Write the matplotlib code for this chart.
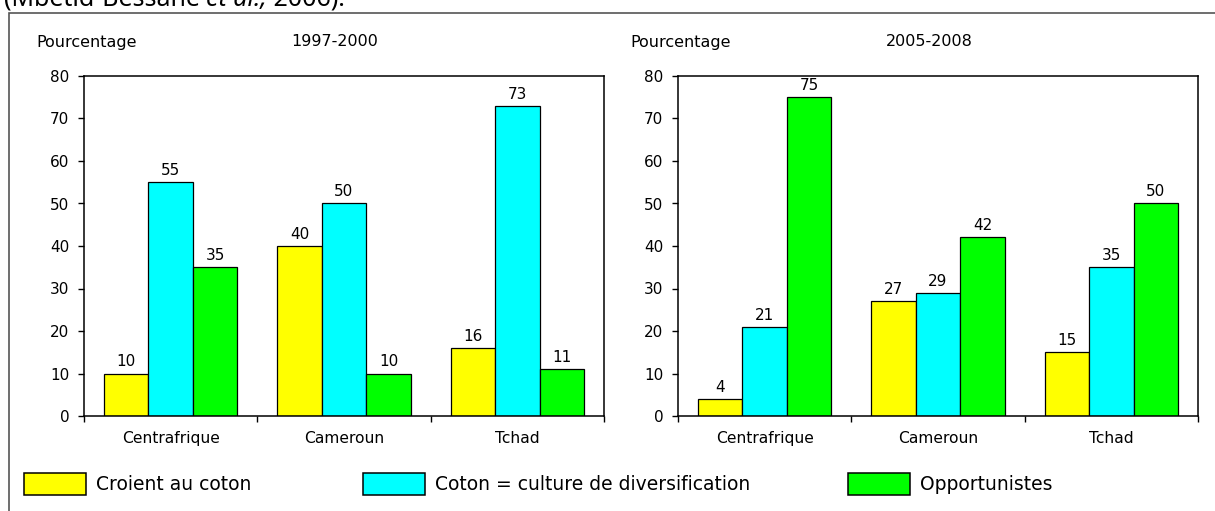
import matplotlib
matplotlib.use('Agg')
import matplotlib.pyplot as plt
from matplotlib.patches import Rectangle, Patch
import numpy as np

# data
pays = ['Centrafrique', 'Cameroun', 'Tchad']
series = ['Croient au coton', 'Coton = culture de diversification', 'Opportunistes']
couleurs = ['#FFFF00', '#00FFFF', '#00FF00']

periode_1 = '1997-2000'
croient_1 = [10, 40, 16]
diversif_1 = [55, 50, 73]
opport_1 = [35, 10, 11]

periode_2 = '2005-2008'
croient_2 = [4, 27, 15]
diversif_2 = [21, 29, 35]
opport_2 = [75, 42, 50]

yticks = [0, 10, 20, 30, 40, 50, 60, 70, 80]

W, H = 1215, 511
fig = plt.figure(figsize=(W / 100, H / 100), dpi=100)
plt.rcParams['font.family'] = ['DejaVu Sans']

# outer frame of the screenshot (right and bottom run off the image)
fig.patches.append(Rectangle((9 / W, -0.1), 1.2, 1 - 13 / H + 0.1,
                             transform=fig.transFigure, fill=False,
                             edgecolor='#555555', linewidth=1.2))

# source line at the very top, cut off by the screenshot like in the reference
renderer = fig.canvas.get_renderer()
x0 = 4
for piece, style in [('(Mbetid-Bessane ', 'normal'), ('et al.,', 'italic'), (' 2006).', 'normal')]:
    t = fig.text(x0 / W, 1 - 6 / H, piece, fontsize=18, family='Noto Sans',
                 style=style, va='baseline', ha='left', color='black')
    x0 += t.get_window_extent(renderer).width


def draw_panel(ax_left, periode, vals):
    ax = fig.add_axes([ax_left / W, (H - 416) / H, 520 / W, 340 / H])
    x = np.arange(len(pays))
    w = 0.257
    for i, (v, c) in enumerate(zip(vals, couleurs)):
        bars = ax.bar(x + (i - 1) * w, v, w, color=c, edgecolor='black',
                      linewidth=0.9, label=series[i])
        ax.bar_label(bars, padding=3, fontsize=11)
    ax.set_xlim(-0.5, 2.5)
    ax.set_ylim(0, 80)
    ax.set_yticks(yticks)
    ax.set_xticks(x)
    ax.set_xticklabels(pays, fontsize=11.2)
    ax.set_xticks([-0.5, 0.5, 1.5, 2.5], minor=True)
    ax.tick_params(axis='x', which='major', length=0, pad=11)
    ax.tick_params(axis='x', which='minor', length=4.5, width=1, direction='out')
    ax.tick_params(axis='y', labelsize=11, length=4.5, width=1, pad=6)
    for s in ax.spines.values():
        s.set_linewidth(1.1)
    fig.text((ax_left - 48) / W, 1 - 42 / H, 'Pourcentage', fontsize=11.5,
             ha='left', va='center')
    fig.text((ax_left + 251) / W, 1 - 42 / H, periode, fontsize=11.5,
             ha='center', va='center')
    return ax


draw_panel(84, periode_1, [croient_1, diversif_1, opport_1])
draw_panel(678, periode_2, [croient_2, diversif_2, opport_2])

# legend row, one entry per block as in the source
leg_x = [24, 363, 848]
for lx, lab, c in zip(leg_x, series, couleurs):
    fig.legend(handles=[Patch(facecolor=c, edgecolor='black', linewidth=1.1, label=lab)],
               loc='center left', bbox_to_anchor=(lx / W, 27 / H), frameon=False,
               fontsize=13.5, handlelength=3.3, handleheight=1.4,
               handletextpad=0.55, borderpad=0, borderaxespad=0)

fig.savefig('out.png', dpi=100)
